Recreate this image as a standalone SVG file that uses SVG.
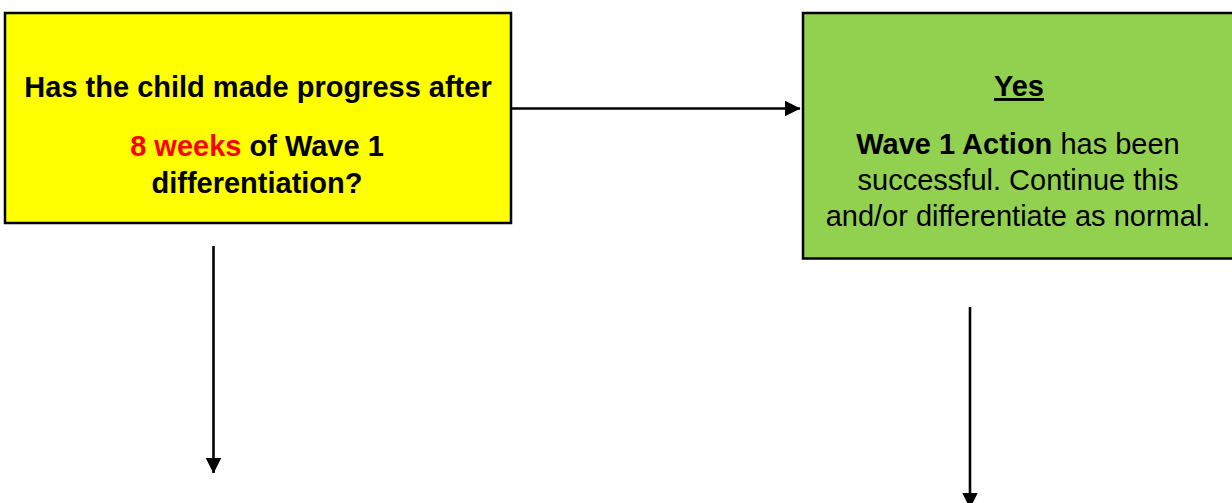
<svg xmlns="http://www.w3.org/2000/svg" width="1232" height="503" viewBox="0 0 1232 503">
<style>
.box{stroke:#000;stroke-width:2.5}
.t{font-family:"Liberation Sans",Arial,sans-serif;font-size:29px;fill:#000;text-anchor:middle}
.b{font-weight:bold}
.red{fill:#FF0000}
.conn{stroke:#000;stroke-width:2.6;fill:none}
</style>
<defs>
<marker id="ah" markerUnits="userSpaceOnUse" markerWidth="17" markerHeight="17" refX="15.5" refY="8" orient="auto">
<path d="M0,0 L16,8 L0,16 Z" fill="#000"/>
</marker>
</defs>
<rect width="1232" height="503" fill="#fff"/>
<g id="n1">
<rect class="box" x="5" y="13" width="506" height="210" fill="#FFFF00"/>
<text class="t b" x="258" y="97">Has the child made progress after</text>
<text class="t b" x="257" y="155.5"><tspan class="red">8 weeks</tspan> of Wave 1</text>
<text class="t b" x="257" y="192.5">differentiation?</text>
</g>
<g id="n2">
<rect class="box" x="803" y="13" width="434" height="245.5" fill="#92D050"/>
<text class="t b" x="1019" y="96" text-decoration="underline">Yes</text>
<text class="t" x="1018" y="154"><tspan class="b">Wave 1 Action</tspan> has been</text>
<text class="t" x="1018" y="190">successful. Continue this</text>
<text class="t" x="1018" y="226">and/or differentiate as normal.</text>
</g>
<g id="connectors">
<line class="conn" x1="511" y1="108.5" x2="800" y2="108.5" marker-end="url(#ah)"/>
<line class="conn" x1="213.5" y1="246" x2="213.5" y2="473" marker-end="url(#ah)"/>
<line class="conn" x1="970" y1="307" x2="970" y2="508" marker-end="url(#ah)"/>
</g>
</svg>
